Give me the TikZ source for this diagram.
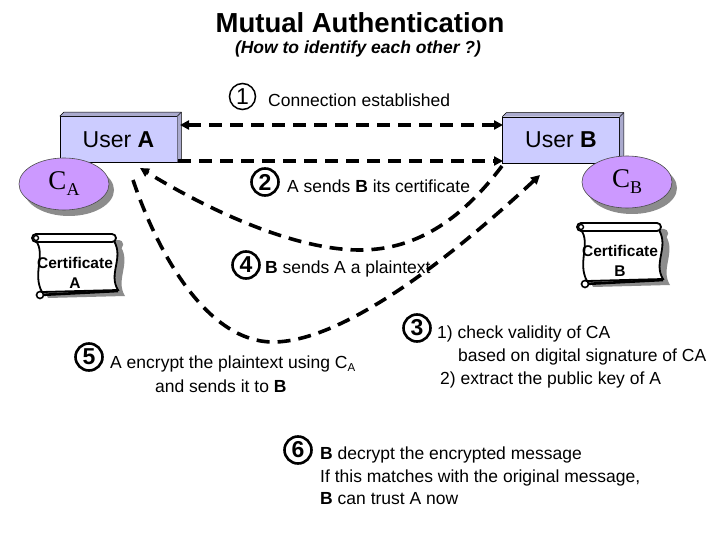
\documentclass[tikz,border=0pt]{standalone}
\usepackage{fontspec}
\setmainfont{Liberation Sans}
\newfontfamily\serifC{Liberation Serif}
\usetikzlibrary{arrows.meta,shapes.geometric,calc}
\definecolor{boxfill}{RGB}{204,204,255}
\definecolor{boxside}{RGB}{170,170,205}
\definecolor{ellfill}{RGB}{204,153,255}
\definecolor{shadowgray}{RGB}{140,140,140}
\tikzset{
  conn/.style={line width=3.6pt, dash pattern=on 13pt off 8pt, black},
  tipend/.style={-{Triangle[length=9pt,width=9pt]}},
  tipboth/.style={{Triangle[length=9pt,width=9pt]}-{Triangle[length=9pt,width=9pt]}},
  userbox/.style={rectangle, draw=black, line width=0.6pt, fill=boxfill, minimum width=117pt, minimum height=46pt, inner sep=0pt, font=\fontsize{23}{23}\selectfont},
  certell/.style={ellipse, draw=black!70, line width=0.6pt, fill=ellfill, minimum width=90pt, minimum height=52pt, inner sep=0pt},
  cnum/.style={circle, draw, line width=2.6pt, minimum size=27pt, inner sep=0pt, font=\fontsize{23}{23}\selectfont\bfseries},
  cnumthin/.style={circle, draw, line width=1.5pt, minimum size=26pt, inner sep=0pt, font=\fontsize{23}{23}\selectfont},
  txt/.style={anchor=base west, inner sep=0pt, font=\fontsize{17.5}{17.5}\selectfont},
  certtxt/.style={inner sep=0pt, font=\fontsize{15.5}{15.5}\selectfont\bfseries},
  scrollpic/.pic={
    \fill[shadowgray] (12,15) .. controls (22,28) and (8,48) .. (18,66) -- (95,64) .. controls (85,48) and (101,32) .. (91,15) -- cycle;
    \fill[shadowgray, rounded corners=4pt] (8,8) rectangle (93,17);
    \draw[fill=white, line width=1.8pt] (6,9) .. controls (16,22) and (2,42) .. (12,60) -- (88,58) .. controls (78,42) and (94,26) .. (84,9) -- cycle;
    \draw[fill=white, line width=1.8pt, rounded corners=4pt] (2,2) rectangle (86,10);
    \draw[line width=1.4pt] (6,6) circle (2.5);
    \draw[line width=2.6pt] (10,63) -- (88,59);
    \draw[fill=white, line width=1.6pt] (10,63) circle (3.5);
  }
}
\begin{document}
\begin{tikzpicture}[x=1pt,y=-1pt]
\useasboundingbox[fill=white] (0,0) rectangle (720,540);

% title
\node[anchor=base, inner sep=0pt, font=\fontsize{27.5}{27.5}\selectfont\bfseries] (title) at (360,33) {Mutual Authentication};
\node[anchor=base, inner sep=0pt, font=\fontsize{17.5}{17.5}\selectfont\bfseries\itshape] (subtitle) at (358,54) {(How to identify each other ?)};

% user boxes
\node[userbox] (ua) at (118.5,139.5) {User \textbf{A}};
\fill[boxside] (ua.north west) -- ++(4,-4) -- ($(ua.north east)+(4,-4)$) -- ($(ua.south east)+(4,-4)$) -- (ua.south east) -- (ua.north east) -- cycle;
\draw[line width=0.5pt] (ua.north west) -- ++(4,-4) -- ($(ua.north east)+(4,-4)$) -- ($(ua.south east)+(4,-4)$) -- (ua.south east);
\draw[line width=0.5pt] (ua.north east) -- ++(4,-4);

\node[userbox] (ub) at (561,140) {User \textbf{B}};
\fill[boxside] (ub.north west) -- ++(4,-4) -- ($(ub.north east)+(4,-4)$) -- ($(ub.south east)+(4,-4)$) -- (ub.south east) -- (ub.north east) -- cycle;
\draw[line width=0.5pt] (ub.north west) -- ++(4,-4) -- ($(ub.north east)+(4,-4)$) -- ($(ub.south east)+(4,-4)$) -- (ub.south east);
\draw[line width=0.5pt] (ub.north east) -- ++(4,-4);

% certificate ellipses
\fill[shadowgray] (69,190) ellipse [x radius=45, y radius=26];
\node[certell] (ca) at (64,184) {\serifC\fontsize{27}{27}\selectfont C\raisebox{-6pt}{\fontsize{18}{18}\selectfont A}};
\fill[shadowgray] (632,188) ellipse [x radius=45, y radius=26];
\node[certell] (cb) at (627,182) {\serifC\fontsize{27}{27}\selectfont C\raisebox{-6pt}{\fontsize{18}{18}\selectfont B}};

% scrolls
\pic at (30,232) {scrollpic};
\node[certtxt] (certa) at (75,263) {Certificate};
\node[certtxt] (certal) at (75,283) {A};
\pic at (575,221) {scrollpic};
\node[certtxt] (certb) at (620,251) {Certificate};
\node[certtxt] (certbl) at (620,271) {B};

% connector end points
\coordinate (a1) at (180,125);
\coordinate (b1) at (503,125);
\coordinate (a2) at (178,161);
\coordinate (b2) at (503,161);
\coordinate (b4) at (502,166);
\coordinate (m4) at (360,250);
\coordinate (a4) at (140,168);
\coordinate (a5) at (133,180);
\coordinate (m5) at (273,342);
\coordinate (b5) at (540,175);

% connectors
\draw[conn, tipboth] (a1) -- (b1);
\draw[conn, tipend] (a2) -- (b2);
\draw[conn, tipend] (b4) .. controls (465,215) and (420,250) .. (m4) .. controls (290,250) and (200,205) .. (a4);
\draw[conn, tipend] (a5) .. controls (160,260) and (210,342) .. (m5) .. controls (350,342) and (470,240) .. (b5);

% step labels
\node[cnumthin] (n1) at (242.5,96.5) {1};
\node[txt] (t1) at (268,107) {Connection established};

\node[cnum] (n2) at (265,182) {2};
\node[txt] (t2) at (287,193) {A sends \textbf{B} its certificate};

\node[cnum] (n4) at (246,265) {4};
\node[txt] (t4) at (265,273) {\textbf{B} sends A a plaintext};

\node[cnum] (n3) at (417,328) {3};
\node[txt] (t3a) at (437,338) {1) check validity of CA};
\node[txt] (t3b) at (458,361) {based on digital signature of CA};
\node[txt] (t3c) at (440,384) {2) extract the public key of A};

\node[cnum] (n5) at (89,357) {5};
\node[txt] (t5a) at (110,368) {A encrypt the plaintext using C\raisebox{-3pt}{\fontsize{11.5}{11.5}\selectfont A}};
\node[txt] (t5b) at (155,392) {and sends it to \textbf{B}};

\node[cnum] (n6) at (298,450) {6};
\node[txt] (t6a) at (320,459) {\textbf{B} decrypt the encrypted message};
\node[txt] (t6b) at (320,482) {If this matches with the original message,};
\node[txt] (t6c) at (320,504) {\textbf{B} can trust A now};
\end{tikzpicture}
\end{document}
